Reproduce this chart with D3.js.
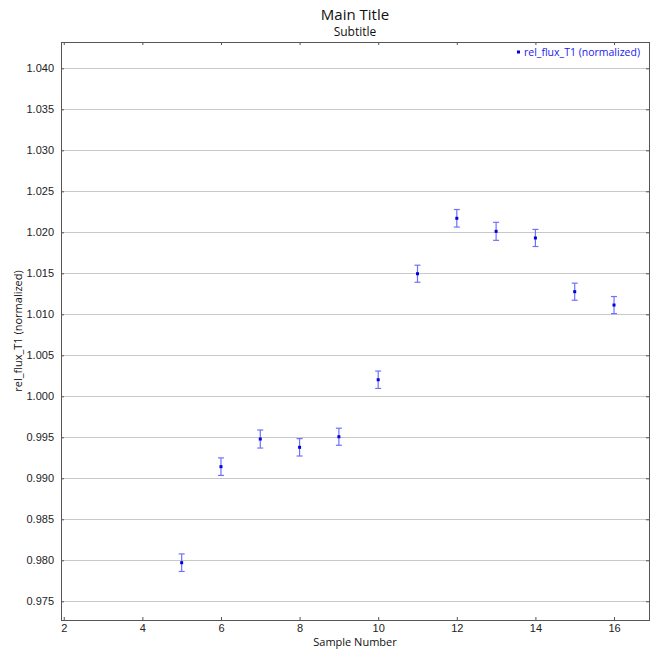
<!DOCTYPE html>
<html>
<head>
<meta charset="utf-8">
<script src="https://cdn.jsdelivr.net/npm/d3@7"></script>
<style>
	body { margin: 0; background: #fff; }
	svg { display: block; font-family: "Open Sans", "DejaVu Sans", sans-serif; }
	.tick text { fill: #222; font-size: 11px; }
</style>
</head>
<body>
<div id="chart"></div>
<script>
// data
var sampleNumbers = [5, 6, 7, 8, 9, 10, 11, 12, 13, 14, 15, 16];
var relFlux = [0.97971, 0.99142, 0.99479, 0.99378, 0.99507, 1.00202, 1.01495, 1.02171, 1.02012, 1.01931, 1.01276, 1.01113];
var relFluxErr = [0.00107, 0.00107, 0.0011, 0.00106, 0.00104, 0.00106, 0.00104, 0.00107, 0.0011, 0.00104, 0.00104, 0.00104];
var xTicks = [2, 4, 6, 8, 10, 12, 14, 16];
var yTicks = [0.975, 0.980, 0.985, 0.990, 0.995, 1.000, 1.005, 1.010, 1.015, 1.020, 1.025, 1.030, 1.035, 1.040];
var xDomain = [1.93, 16.89];
var yDomain = [0.97272, 1.04321];

var width = 664, height = 653;
var margins = {left: 61, right: 15, top: 42, bottom: 33};
var plotW = width - margins.left - margins.right;
var plotH = height - margins.top - margins.bottom;

var svg = d3.select("#chart")
	.append("svg")
	.attr("width", width)
	.attr("height", height);

var x = d3.scaleLinear().domain(xDomain).range([0, plotW]);
var y = d3.scaleLinear().domain(yDomain).range([plotH, 0]);

var g = svg.append("g")
	.attr("transform", "translate(" + margins.left + "," + margins.top + ")");

g.append("rect")
	.attr("width", plotW)
	.attr("height", plotH)
	.style("fill", "#fff");

// horizontal gridlines
g.selectAll(".grid")
	.data(yTicks)
	.enter().append("line")
	.attr("class", "grid")
	.attr("x1", 0)
	.attr("x2", plotW)
	.attr("y1", function(d) { return Math.round(y(d)) + 0.5; })
	.attr("y2", function(d) { return Math.round(y(d)) + 0.5; })
	.style("stroke", "#c8c8c8")
	.style("stroke-width", 1);

// axes, ticks pointing inward
var fmtY = d3.format(".3f");
var yAxis = g.append("g")
	.call(d3.axisLeft(y).tickValues(yTicks).tickFormat(fmtY).tickSizeInner(-3).tickSizeOuter(0).tickPadding(7));
var yAxisR = g.append("g")
	.attr("transform", "translate(" + plotW + ",0)")
	.call(d3.axisRight(y).tickValues(yTicks).tickFormat("").tickSizeInner(-3).tickSizeOuter(0));
var xAxis = g.append("g")
	.attr("transform", "translate(0," + plotH + ")")
	.call(d3.axisBottom(x).tickValues(xTicks).tickFormat(d3.format("d")).tickSizeInner(-3).tickSizeOuter(0).tickPadding(4));
var xAxisT = g.append("g")
	.call(d3.axisTop(x).tickValues(xTicks).tickFormat("").tickSizeInner(-3).tickSizeOuter(0));

[yAxis, yAxisR, xAxis, xAxisT].forEach(function(a) {
	a.select(".domain").remove();
	a.selectAll(".tick line").style("stroke", "#555");
});

// frame
g.append("rect")
	.attr("x", 0.5)
	.attr("y", 0.5)
	.attr("width", plotW)
	.attr("height", plotH)
	.style("fill", "none")
	.style("stroke", "#555")
	.style("stroke-width", 1);

// error bars
var pts = sampleNumbers.map(function(s, i) { return {x: s, y: relFlux[i], e: relFluxErr[i]}; });
var errColor = "#7070ff";
var capW = 3;
var eb = g.selectAll(".err").data(pts).enter().append("g").attr("class", "err");
eb.append("line")
	.attr("x1", function(d) { return x(d.x); })
	.attr("x2", function(d) { return x(d.x); })
	.attr("y1", function(d) { return y(d.y - d.e); })
	.attr("y2", function(d) { return y(d.y + d.e); })
	.style("stroke", errColor)
	.style("stroke-width", 1.2);
eb.append("line")
	.attr("x1", function(d) { return x(d.x) - capW; })
	.attr("x2", function(d) { return x(d.x) + capW; })
	.attr("y1", function(d) { return y(d.y - d.e); })
	.attr("y2", function(d) { return y(d.y - d.e); })
	.style("stroke", errColor)
	.style("stroke-width", 1.2);
eb.append("line")
	.attr("x1", function(d) { return x(d.x) - capW; })
	.attr("x2", function(d) { return x(d.x) + capW; })
	.attr("y1", function(d) { return y(d.y + d.e); })
	.attr("y2", function(d) { return y(d.y + d.e); })
	.style("stroke", errColor)
	.style("stroke-width", 1.2);

// points
g.selectAll(".pt").data(pts).enter().append("rect")
	.attr("class", "pt")
	.attr("x", function(d) { return x(d.x) - 1.5; })
	.attr("y", function(d) { return y(d.y) - 1.5; })
	.attr("width", 3)
	.attr("height", 3)
	.style("fill", "#0000e0");

// legend: text first, then dot placed from its measured start
var legText = g.append("text")
	.attr("x", plotW - 9)
	.attr("y", 14)
	.attr("text-anchor", "end")
	.style("font-size", "10.5px")
	.style("fill", "#2020f0")
	.text("rel_flux_T1 (normalized)");
var lb = legText.node().getBBox();
g.append("rect")
	.attr("x", lb.x - 7)
	.attr("y", 8.5)
	.attr("width", 3)
	.attr("height", 3)
	.style("fill", "#0000e0");

// titles
var cx = margins.left + plotW / 2;
svg.append("text")
	.attr("x", cx)
	.attr("y", 20)
	.attr("text-anchor", "middle")
	.style("font-size", "15px")
	.style("fill", "#111")
	.text("Main Title");
svg.append("text")
	.attr("x", cx)
	.attr("y", 36)
	.attr("text-anchor", "middle")
	.style("font-size", "12px")
	.style("fill", "#111")
	.text("Subtitle");
svg.append("text")
	.attr("x", cx)
	.attr("y", 646)
	.attr("text-anchor", "middle")
	.style("font-size", "11px")
	.style("fill", "#111")
	.text("Sample Number");
svg.append("text")
	.attr("transform", "translate(22," + (margins.top + plotH / 2) + ") rotate(-90)")
	.attr("text-anchor", "middle")
	.style("font-size", "11px")
	.style("fill", "#111")
	.text("rel_flux_T1 (normalized)");
</script>
</body>
</html>
